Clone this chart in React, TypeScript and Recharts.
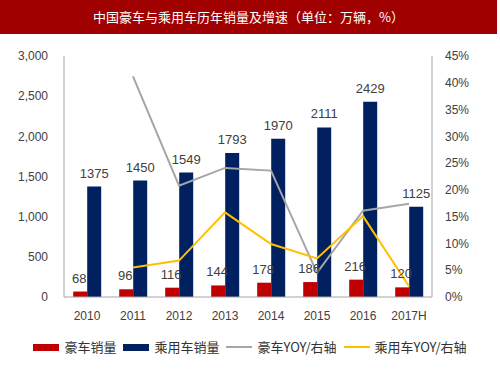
import React from "react";
import {
  ComposedChart,
  Bar,
  Line,
  XAxis,
  YAxis,
  LabelList,
} from "recharts";

const years = ["2010", "2011", "2012", "2013", "2014", "2015", "2016", "2017H"];
const luxurySales = [68, 96, 116, 144, 178, 186, 216, 120];
const passengerSales = [1375, 1450, 1549, 1793, 1970, 2111, 2429, 1125];
const luxuryYoy = [null, 41.2, 20.8, 24.1, 23.6, 4.5, 16.1, 17.4];
const passengerYoy = [null, 5.5, 6.8, 15.8, 9.9, 7.2, 15.1, 2.0];

const leftTicks = [0, 500, 1000, 1500, 2000, 2500, 3000];
const rightTicks = [0, 5, 10, 15, 20, 25, 30, 35, 40, 45];

const data = years.map((year, i) => ({
  year,
  luxury: luxurySales[i],
  passenger: passengerSales[i],
  luxuryYoy: luxuryYoy[i],
  passengerYoy: passengerYoy[i],
}));

const font = "'Liberation Sans', 'Noto Sans CJK SC', sans-serif";
const cjk = "'Noto Sans CJK SC', sans-serif";

const legendItems = [
  { label: "豪车销量", color: "#C00000", kind: "bar" },
  { label: "乘用车销量", color: "#002060", kind: "bar" },
  { label: "豪车YOY/右轴", color: "#A6A6A6", kind: "line" },
  { label: "乘用车YOY/右轴", color: "#FFC000", kind: "line" },
];

function ChartLegend() {
  return (
    <div
      style={{
        position: "absolute",
        left: 0,
        top: 338,
        width: 500,
        display: "flex",
        justifyContent: "center",
        alignItems: "center",
        fontFamily: cjk,
        fontSize: 13,
        lineHeight: "18px",
        color: "#333",
      }}
    >
      {legendItems.map((item, i) => (
        <div
          key={item.label}
          style={{ display: "flex", alignItems: "center", marginLeft: i === 0 ? 0 : 7 }}
        >
          <span
            style={{
              display: "inline-block",
              width: 26,
              height: item.kind === "bar" ? 7 : 2,
              background: item.color,
              marginRight: 5,
            }}
          />
          <span>{item.label}</span>
        </div>
      ))}
    </div>
  );
}

// draws both bar labels from the navy bar so they sit on top of both bars
function PairLabel(props: any) {
  const { x, y, width, height, index } = props;
  const base = y + height;
  const pass = passengerSales[index];
  const lux = luxurySales[index];
  const luxY = base - (height * lux) / pass;
  const style = { fill: "#404040", fontSize: 13, fontFamily: font };
  return (
    <g>
      <text x={x + width / 2} y={y - 9} textAnchor="middle" style={style}>
        {pass}
      </text>
      <text x={x - width / 2 - 1} y={luxY - 9} textAnchor="middle" style={style}>
        {lux}
      </text>
    </g>
  );
}

export default function App() {
  return (
    <div style={{ position: "fixed", left: 0, top: 0, width: 500, height: 375, background: "#fff" }}>
      <div
        style={{
          position: "absolute",
          left: 0,
          top: 0,
          width: 497,
          height: 34,
          background: "#A00000",
          color: "#fff",
          fontFamily: cjk,
          fontSize: 13,
          lineHeight: "34px",
          textAlign: "center",
        }}
      >
        中国豪车与乘用车历年销量及增速（单位：万辆，%）
      </div>
      <ComposedChart
        width={500}
        height={375}
        data={data}
        margin={{ top: 56, right: 0, left: 0, bottom: 48 }}
        barCategoryGap="20%"
        barGap={0}
      >
        <XAxis
          dataKey="year"
          tickLine={false}
          axisLine={{ stroke: "#A6A6A6" }}
          tickMargin={8}
          height={30}
          tick={{ fill: "#404040", fontSize: 12, fontFamily: font }}
        />
        <YAxis
          yAxisId="left"
          orientation="left"
          width={64}
          domain={[0, 3000]}
          ticks={leftTicks}
          tickFormatter={(v: number) => v.toLocaleString("en-US")}
          tickLine={false}
          axisLine={{ stroke: "#A6A6A6" }}
          tickMargin={10}
          tick={{ fill: "#404040", fontSize: 12, fontFamily: font }}
        />
        <YAxis
          yAxisId="right"
          orientation="right"
          width={68}
          domain={[0, 45]}
          ticks={rightTicks}
          tickFormatter={(v: number) => `${v}%`}
          tickLine={false}
          axisLine={{ stroke: "#A6A6A6" }}
          tickMargin={7}
          tick={{ fill: "#404040", fontSize: 12, fontFamily: font, textAnchor: "start" }}
        />
        <Bar yAxisId="left" dataKey="luxury" fill="#C00000" isAnimationActive={false} />
        <Bar yAxisId="left" dataKey="passenger" fill="#002060" isAnimationActive={false}>
          <LabelList dataKey="passenger" content={PairLabel} />
        </Bar>
        <Line
          yAxisId="right"
          dataKey="luxuryYoy"
          stroke="#A6A6A6"
          strokeWidth={2}
          dot={false}
          type="linear"
          isAnimationActive={false}
        />
        <Line
          yAxisId="right"
          dataKey="passengerYoy"
          stroke="#FFC000"
          strokeWidth={2}
          dot={false}
          type="linear"
          isAnimationActive={false}
        />
      </ComposedChart>
      <ChartLegend />
    </div>
  );
}
